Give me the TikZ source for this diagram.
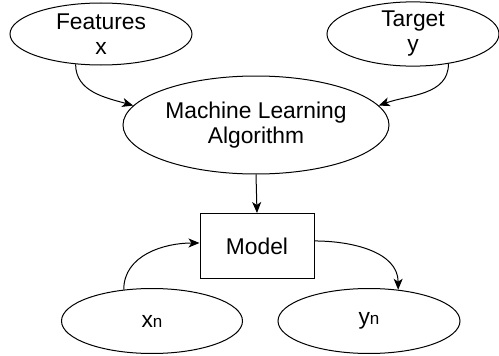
\documentclass[tikz,border=0pt]{standalone}
\usepackage{fontspec}
\setmainfont{Liberation Sans}
\usetikzlibrary{shapes.geometric,arrows.meta}

\tikzset{
  oval/.style={ellipse, draw, line width=1pt, inner sep=0pt, align=center,
    font=\fontsize{22.8}{25}\selectfont},
  box/.style={rectangle, draw, line width=1pt, inner sep=0pt, align=center,
    font=\fontsize{22.8}{25}\selectfont},
  flow/.style={line width=1pt, -{Stealth[length=11pt,width=9pt,inset=3pt]}},
}
\newcommand{\smalln}{{\fontsize{17}{17}\selectfont n}}

\begin{document}
\begin{tikzpicture}[x=1pt,y=-1pt]
  \useasboundingbox (0,0) rectangle (499,356);

  % inputs
  \node[oval, minimum width=182pt, minimum height=62pt] (feat) at (101,34) {Features\\x};
  \node[oval, minimum width=172pt, minimum height=62pt] (tgt) at (413,34) {Target\\y};

  % learner and resulting model
  \node[oval, minimum width=266pt, minimum height=98pt] (ml) at (256,125) {Machine Learning\\Algorithm};
  \node[box, minimum width=114pt, minimum height=65pt] (model) at (257,246) {Model};

  % new sample and prediction
  \node[oval, minimum width=181pt, minimum height=65pt] (xn) at (152,321) {x\smalln};
  \node[oval, minimum width=182pt, minimum height=65pt] (yn) at (369,321) {y\smalln};

  % connectors
  \draw[flow] (feat.230) to[out=-90, in=164] (ml.171);
  \draw[flow] (tgt.-40) to[out=-90, in=20] (ml.9);
  \draw[flow] (ml.south) -- (model.north);
  \draw[flow] (xn.132) to[out=90, in=180] (model.177);
  \draw[flow] (model.5) to[out=0, in=90] (yn.47);
\end{tikzpicture}
\end{document}
